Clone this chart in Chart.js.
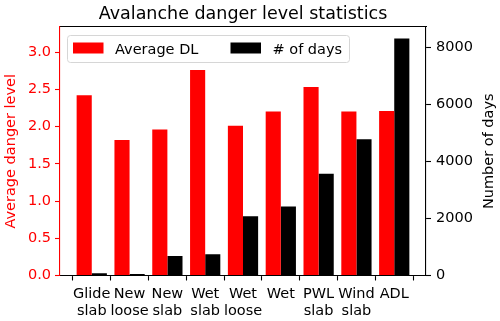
<!DOCTYPE html>
<html>
<head>
<meta charset="utf-8">
<script src="https://cdn.jsdelivr.net/npm/chart.js@4.4.0/dist/chart.umd.min.js"></script>
<style>
  html, body { margin: 0; padding: 0; background: #fff; }
  #wrap { width: 500px; height: 321px; }
</style>
</head>
<body>
<div id="wrap"><canvas id="dangerChart" width="500" height="321"></canvas></div>
<script>
// categories (two-line labels) and the two series
var categories = [
  ["Glide", "slab"], ["New", "loose"], ["New", "slab"], ["Wet", "slab"],
  ["Wet", "loose"], ["Wet"], ["PWL", "slab"], ["Wind", "slab"], ["ADL"]
];
var avgDangerLevel = [2.42, 1.82, 1.96, 2.76, 2.01, 2.20, 2.53, 2.20, 2.21];
var numberOfDays = [75, 55, 680, 740, 2075, 2415, 3560, 4770, 8300];
var leftTicks = [0, 0.5, 1, 1.5, 2, 2.5, 3];
var rightTicks = [0, 2000, 4000, 6000, 8000];

var FONT = "'DejaVu Sans', sans-serif";
var FS = 14.5;
Chart.defaults.font.family = FONT;
Chart.defaults.font.size = FS;
Chart.defaults.color = "#000";

function pts(vals) {
  return vals.map(function (v, i) { return { x: i, y: v }; });
}

// title centred over the plot area and the right axis label read bottom-to-top
var textPlugin = {
  id: "mplText",
  afterDraw: function (chart) {
    var ctx = chart.ctx, a = chart.chartArea;
    ctx.save();
    ctx.font = "17.5px " + FONT;
    ctx.fillStyle = "#000";
    ctx.textAlign = "center";
    ctx.textBaseline = "alphabetic";
    ctx.fillText("Avalanche danger level statistics", (a.left + a.right) / 2, 18.5);

    ctx.font = FS + "px " + FONT;
    ctx.textBaseline = "middle";
    ctx.translate(489, (a.top + a.bottom) / 2);
    ctx.rotate(-Math.PI / 2);
    ctx.fillText("Number of days", 0, 0);
    ctx.restore();
  }
};

// matplotlib-style legend box in the upper left of the plot
var legendPlugin = {
  id: "mplLegend",
  afterDatasetsDraw: function (chart) {
    var ctx = chart.ctx;
    var x0 = 67.5, y0 = 35.5, w = 282, h = 27;
    ctx.save();
    ctx.beginPath();
    ctx.roundRect(x0, y0, w, h, 3);
    ctx.fillStyle = "rgba(255,255,255,0.8)";
    ctx.fill();
    ctx.strokeStyle = "#d6d6d6";
    ctx.lineWidth = 1;
    ctx.stroke();
    var items = [{ px: 73, tx: 115 }, { px: 230.5, tx: 272.5 }];
    ctx.font = FS + "px " + FONT;
    ctx.textBaseline = "alphabetic";
    chart.data.datasets.forEach(function (ds, i) {
      ctx.fillStyle = ds.backgroundColor;
      ctx.fillRect(items[i].px, 42.5, 30.5, 11);
      ctx.fillStyle = "#000";
      ctx.fillText(ds.label, items[i].tx, 54);
    });
    ctx.restore();
  }
};

var ctx = document.getElementById("dangerChart").getContext("2d");
var myChart = new Chart(ctx, {
  type: "bar",
  data: {
    datasets: [{
      label: "Average DL",
      data: pts(avgDangerLevel),
      backgroundColor: "#ff0000",
      yAxisID: "y",
      categoryPercentage: 0.8,
      barPercentage: 1.0
    }, {
      label: "# of days",
      data: pts(numberOfDays),
      backgroundColor: "#000000",
      yAxisID: "y2",
      categoryPercentage: 0.8,
      barPercentage: 1.0
    }]
  },
  options: {
    responsive: false,
    animation: false,
    layout: { padding: { top: 27, left: 0, right: 0, bottom: 0 } },
    plugins: {
      legend: { display: false },
      tooltip: { enabled: false },
      title: { display: false }
    },
    scales: {
      x: {
        type: "linear",
        min: -0.84,
        max: 8.84,
        offset: false,
        afterBuildTicks: function (axis) {
          axis.ticks = categories.map(function (c, i) { return { value: i }; });
        },
        afterFit: function (axis) { axis.height = 45.5; },
        ticks: {
          autoSkip: false,
          maxRotation: 0,
          padding: 5.5,
          color: "#000",
          font: { size: FS, lineHeight: 1.16 },
          callback: function (v) { return categories[v]; }
        },
        grid: { drawOnChartArea: false, drawTicks: true, tickLength: 5, tickColor: "#000", tickWidth: 1.1 },
        border: { display: true, color: "#000", width: 1.1 }
      },
      xTop: {
        type: "linear",
        position: "top",
        min: 0,
        max: 1,
        ticks: { display: false },
        grid: { display: false },
        border: { display: true, color: "#000", width: 1.1 },
        afterFit: function (axis) { axis.height = 0; }
      },
      y: {
        type: "linear",
        position: "left",
        min: 0,
        max: 3.336,
        afterBuildTicks: function (axis) {
          axis.ticks = leftTicks.map(function (v) { return { value: v }; });
        },
        afterFit: function (axis) { axis.width = 60; },
        ticks: {
          color: "#ff0000",
          padding: 4,
          font: { size: FS },
          callback: function (v) { return v.toFixed(1); }
        },
        grid: { drawOnChartArea: false, tickLength: 5, tickColor: "#ff0000", tickWidth: 1.1 },
        border: { display: true, color: "#ff0000", width: 1.1 },
        title: {
          display: true,
          text: "Average danger level",
          color: "#ff0000",
          font: { size: FS },
          padding: { top: 3, bottom: 0 }
        }
      },
      y2: {
        type: "linear",
        position: "right",
        min: 0,
        max: 8702,
        afterBuildTicks: function (axis) {
          axis.ticks = rightTicks.map(function (v) { return { value: v }; });
        },
        afterFit: function (axis) { axis.width = 74; },
        ticks: {
          color: "#000",
          padding: 5,
          font: { size: FS },
          callback: function (v) { return String(v); }
        },
        grid: { drawOnChartArea: false, tickLength: 5, tickColor: "#000", tickWidth: 1.1 },
        border: { display: true, color: "#000", width: 1.1 }
      }
    }
  },
  plugins: [textPlugin, legendPlugin]
});
</script>
</body>
</html>
